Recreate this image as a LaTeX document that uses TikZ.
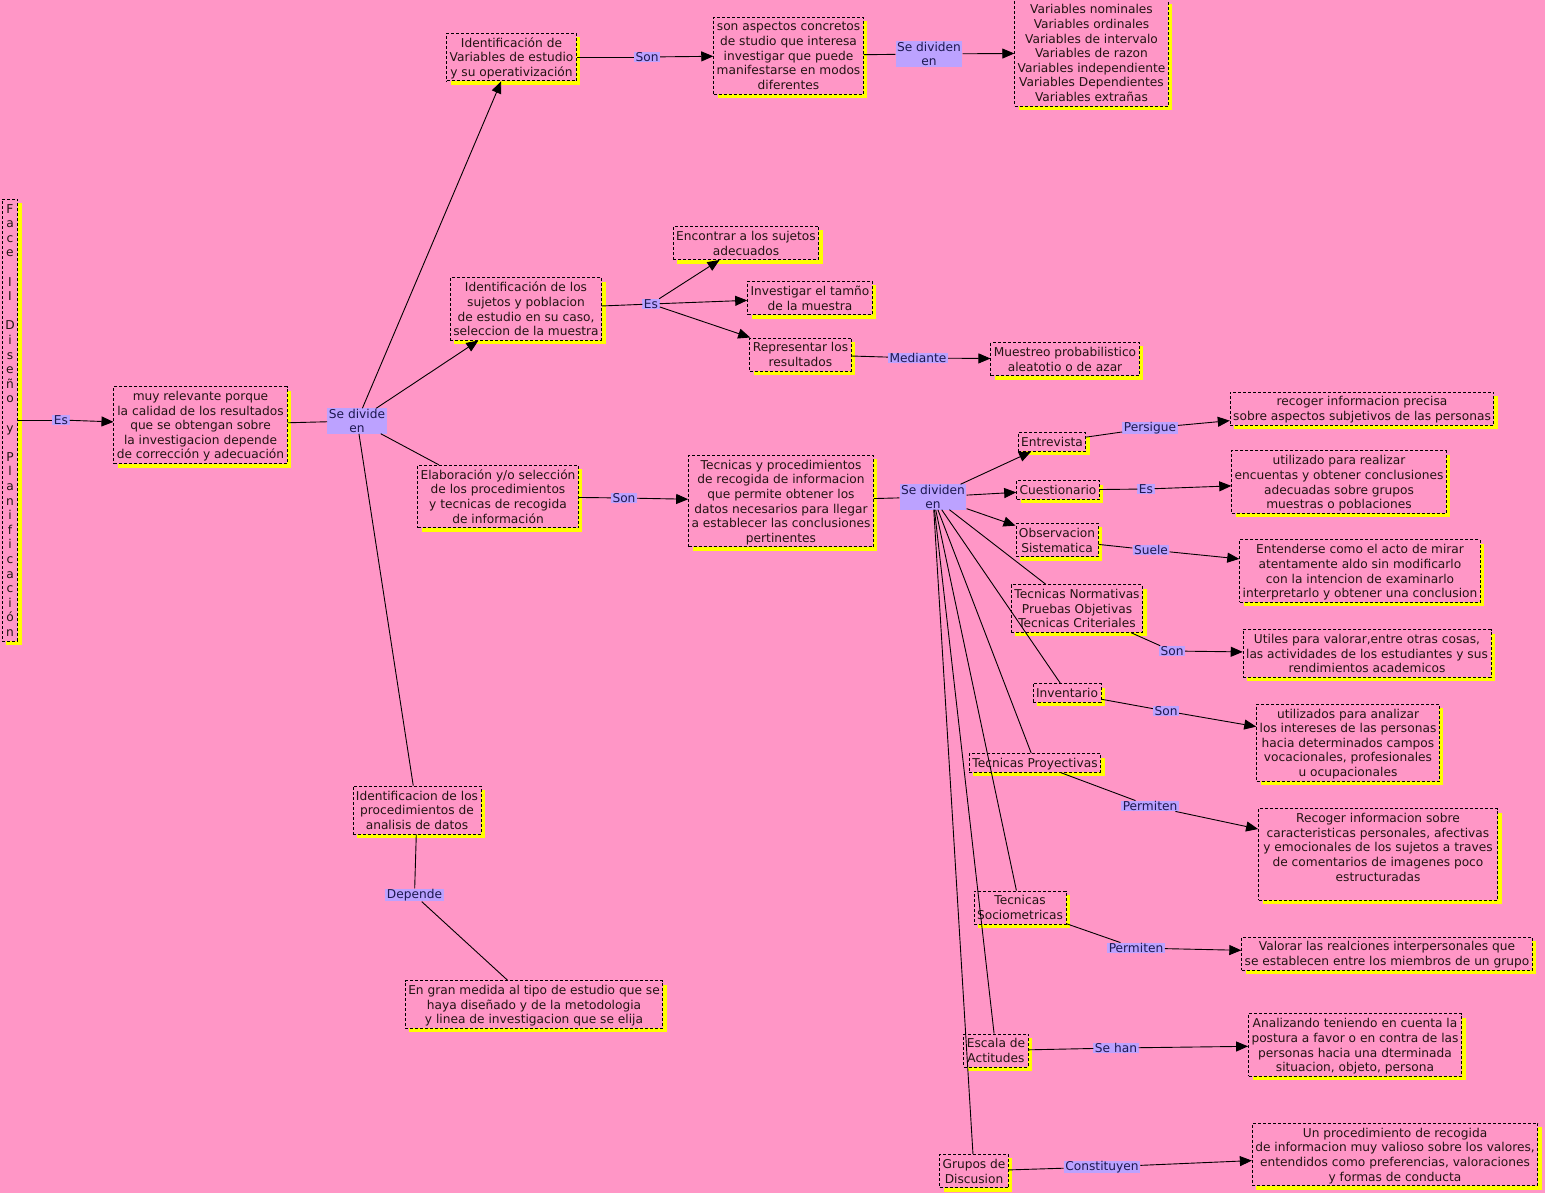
\documentclass[tikz,border=0pt]{standalone}
\usepackage{fontspec}
\setmainfont{DejaVu Sans}
\usetikzlibrary{arrows.meta,shadows}
\definecolor{bgpink}{RGB}{255,150,198}
\definecolor{lav}{RGB}{188,162,255}
\definecolor{ylw}{RGB}{255,255,0}
\definecolor{txt}{RGB}{35,20,20}
\definecolor{lbltxt}{RGB}{28,24,80}
\newcommand\ts{\rule{0pt}{12pt}}
\newcommand\bs{\rule[-2.6pt]{0pt}{2.6pt}}
\begin{document}
\begin{tikzpicture}[x=1pt,y=-1pt,
  every node/.style={font=\fontsize{12.2}{14.6}\selectfont},
  box/.style={draw=black, dash pattern=on 3pt off 2pt, line width=0.8pt, fill=bgpink, text=txt, align=center, inner xsep=3pt, inner ysep=2pt,
    drop shadow={shadow xshift=4pt,shadow yshift=-4pt,fill=ylw,opacity=1}},
  lbl/.style={fill=lav, text=lbltxt, align=center, inner xsep=1.5pt, inner ysep=0.5pt},
  con/.style={draw=black, line width=0.9pt},
  arr/.style={con, -{Triangle[length=12pt,width=10pt]}},
]
\useasboundingbox (0,0) rectangle (1545,1193);
\fill[bgpink] (0,0) rectangle (1545,1193);

% ---------- boxes ----------
\node[box] (face) at (10,420) {\ts F\\a\\c\\e\\{}\\I\\I\\{}\\D\\i\\s\\e\\ñ\\o\\{}\\y\\{}\\P\\l\\a\\n\\i\\f\\i\\c\\a\\c\\i\\ó\\n\bs};
\node[box] (muy) at (200.5,425) {\ts muy relevante porque\\la calidad de los resultados\\que se obtengan sobre\\la investigacion depende\\de corrección y adecuación\bs};
\node[box] (idvar) at (511.5,57) {\ts Identificación de\\Variables de estudio\\y su operativización\bs};
\node[box] (aspectos) at (788.5,55.5) {\ts son aspectos concretos\\de studio que interesa\\investigar que puede\\manifestarse en modos\\diferentes\bs};
\node[box] (vars) at (1091.5,53) {\ts Variables nominales\\Variables ordinales\\Variables de intervalo\\Variables de razon\\Variables independiente\\Variables Dependientes\\Variables extrañas\bs};
\node[box] (suj) at (526,309) {\ts Identificación de los\\sujetos y poblacion\\de estudio en su caso,\\seleccion de la muestra\bs};
\node[box] (enc) at (746,243) {\ts Encontrar a los sujetos\\adecuados\bs};
\node[box] (inv) at (810,298) {\ts Investigar el tamño\\de la muestra\bs};
\node[box] (rep) at (800.5,354.5) {\ts Representar los\\resultados\bs};
\node[box] (mue) at (1065,359) {\ts Muestreo probabilistico\\aleatotio o de azar\bs};
\node[box] (elab) at (498,496.5) {\ts Elaboración y/o selección\\de los procedimientos\\y tecnicas de recogida\\de información\bs};
\node[box] (tec) at (781,501) {\ts Tecnicas y procedimientos\\de recogida de informacion\\que permite obtener los\\datos necesarios para llegar\\a establecer las conclusiones\\pertinentes\bs};
\node[box] (entr) at (1052,442) {\ts Entrevista\bs};
\node[box] (recoger) at (1362,408.5) {\ts recoger informacion precisa\\sobre aspectos subjetivos de las personas\bs};
\node[box] (cues) at (1058,490) {\ts Cuestionario\bs};
\node[box] (util) at (1339,482) {\ts utilizado para realizar\\encuentas y obtener conclusiones\\adecuadas sobre grupos\\muestras o poblaciones\bs};
\node[box] (obs) at (1057,540) {\ts Observacion\\Sistematica\bs};
\node[box] (ent) at (1360,571) {\ts Entenderse como el acto de mirar\\atentamente aldo sin modificarlo\\con la intencion de examinarlo\\interpretarlo y obtener una conclusion\bs};
\node[box] (norm) at (1077,608.5) {\ts Tecnicas Normativas\\Pruebas Objetivas\\Tecnicas Criteriales\bs};
\node[box] (utiles) at (1367,653.5) {\ts Utiles para valorar,entre otras cosas,\\las actividades de los estudiantes y sus\\rendimientos academicos\bs};
\node[box] (invent) at (1067,693) {\ts Inventario\bs};
\node[box] (utilz) at (1348,742.5) {\ts utilizados para analizar\\los intereses de las personas\\hacia determinados campos\\vocacionales, profesionales\\u ocupacionales\bs};
\node[box] (proy) at (1035,763) {\ts Tecnicas Proyectivas\bs};
\node[box, minimum width=239pt] (recinfo) at (1378,854.5) {\ts Recoger informacion sobre\\caracteristicas personales, afectivas\\y emocionales de los sujetos a traves\\de comentarios de imagenes poco\\estructuradas\\\bs};
\node[box] (socio) at (1020,907.5) {\ts Tecnicas\\Sociometricas\bs};
\node[box] (valorar) at (1387,953.5) {\ts Valorar las realciones interpersonales que\\se establecen entre los miembros de un grupo\bs};
\node[box] (escala) at (996,1050.5) {\ts Escala de\\Actitudes\bs};
\node[box] (anal) at (1355,1045) {\ts Analizando teniendo en cuenta la\\postura a favor o en contra de las\\personas hacia una dterminada\\situacion, objeto, persona\bs};
\node[box] (grupos) at (974,1171) {\ts Grupos de\\Discusion\bs};
\node[box] (unproc) at (1395,1154.5) {\ts Un procedimiento de recogida\\de informacion muy valioso sobre los valores,\\entendidos como preferencias, valoraciones\\y formas de conducta\bs};
\node[box] (proc) at (417,810) {\ts Identificacion de los\\procedimientos de\\analisis de datos\bs};
\node[box] (gran) at (534,1004.5) {\ts En gran medida al tipo de estudio que se\\haya diseñado y de la metodologia\\y linea de investigacion que se elija\bs};

% ---------- labels ----------
\node[lbl] (es1) at (61,420) {Es};
\node[lbl] (sdiv) at (357,421) {Se divide\\en};
\node[lbl] (son1) at (647,57) {Son};
\node[lbl] (sdiv2) at (929,54) {Se dividen\\en};
\node[lbl] (es2) at (651,304) {Es};
\node[lbl] (med) at (918,358) {Mediante};
\node[lbl] (son2) at (624,498) {Son};
\node[lbl] (sdiv3) at (933,497) {Se dividen\\en};
\node[lbl] (pers) at (1150,428) {Persigue};
\node[lbl] (es3) at (1146,489) {Es};
\node[lbl] (suele) at (1151,550) {Suele};
\node[lbl] (son3) at (1172,651) {Son};
\node[lbl] (son4) at (1166,711) {Son};
\node[lbl] (perm1) at (1150,806) {Permiten};
\node[lbl] (perm2) at (1136,948) {Permiten};
\node[lbl] (sehan) at (1116,1048) {Se han};
\node[lbl] (const) at (1102,1167) {Constituyen};
\node[lbl] (dep) at (414.5,895) {Depende};

% ---------- connectors ----------
\draw[con] (face) -- (es1);
\draw[arr] (es1) -- (muy);
\draw[con] (muy) -- (sdiv);
\draw[arr] (sdiv) -- (idvar);
\draw[arr] (sdiv) -- (suj);
\draw[con] (sdiv) -- (elab);
\draw[con] (sdiv) -- (proc);
\draw[con] (idvar) -- (son1);
\draw[arr] (son1) -- (aspectos);
\draw[con] (aspectos) -- (sdiv2);
\draw[arr] (sdiv2) -- (vars);
\draw[con] (suj) -- (es2);
\draw[arr] (es2) -- (enc);
\draw[arr] (es2) -- (inv);
\draw[arr] (es2) -- (rep);
\draw[con] (rep) -- (med);
\draw[arr] (med) -- (mue);
\draw[con] (elab) -- (son2);
\draw[arr] (son2) -- (tec);
\draw[con] (tec) -- (sdiv3);
\draw[arr] (sdiv3) -- (entr);
\draw[arr] (sdiv3) -- (cues);
\draw[arr] (sdiv3) -- (obs);
\draw[con] (sdiv3) -- (norm);
\draw[con] (sdiv3) -- (invent);
\draw[con] (sdiv3) -- (proy);
\draw[con] (sdiv3) -- (socio);
\draw[con] (sdiv3) -- (escala);
\draw[con] (sdiv3) -- (grupos);
\draw[con] (entr) -- (pers);
\draw[arr] (pers) -- (recoger);
\draw[con] (cues) -- (es3);
\draw[arr] (es3) -- (util);
\draw[con] (obs) -- (suele);
\draw[arr] (suele) -- (ent);
\draw[con] (norm) -- (son3);
\draw[arr] (son3) -- (utiles);
\draw[con] (invent) -- (son4);
\draw[arr] (son4) -- (utilz);
\draw[con] (proy) -- (perm1);
\draw[arr] (perm1) -- (recinfo);
\draw[con] (socio) -- (perm2);
\draw[arr] (perm2) -- (valorar);
\draw[con] (escala) -- (sehan);
\draw[arr] (sehan) -- (anal);
\draw[con] (grupos) -- (const);
\draw[arr] (const) -- (unproc);
\draw[con] (proc) -- (dep);
\draw[con] (dep) -- (gran);
\end{tikzpicture}
\end{document}
